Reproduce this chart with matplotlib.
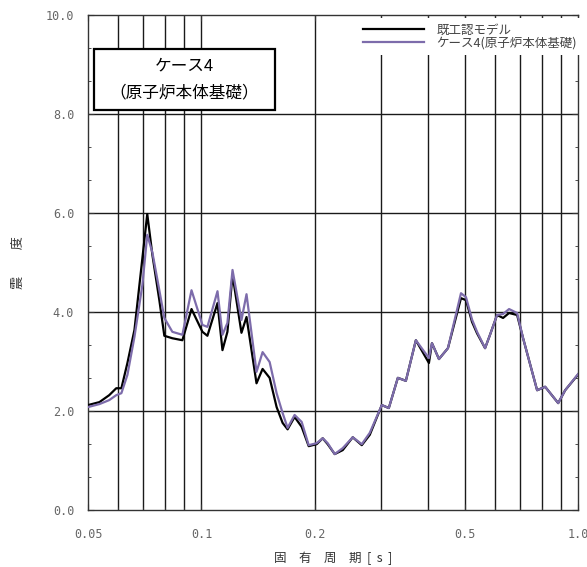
import matplotlib
matplotlib.use("Agg")
import matplotlib.pyplot as plt
import numpy as np
from matplotlib.ticker import FixedLocator, NullFormatter, AutoMinorLocator
from matplotlib.patches import Rectangle

plt.rcParams['font.family'] = ['Noto Sans CJK JP', 'DejaVu Sans']

# natural period [s]
period = [0.05, 0.0536, 0.0569, 0.0594, 0.0613, 0.0636, 0.0664, 0.0697, 0.0718, 0.0741,
          0.0773, 0.0797, 0.0837, 0.089, 0.0941, 0.1006, 0.1037, 0.1103, 0.1137, 0.1172,
          0.1209, 0.1277, 0.1317, 0.140, 0.1453, 0.1517, 0.1583, 0.1642, 0.1693, 0.1767,
          0.1845, 0.1926, 0.2022, 0.2098, 0.2163, 0.2258, 0.2371, 0.2521, 0.2664, 0.2798,
          0.3011, 0.3143, 0.3321, 0.3488, 0.3708, 0.4016, 0.4091, 0.427, 0.4511, 0.4885,
          0.5037, 0.5226, 0.5389, 0.566, 0.5834, 0.609, 0.6318, 0.6554, 0.6884, 0.7141,
          0.778, 0.817, 0.8849, 0.9235, 1.0]

# 既工認モデル
base_model = [2.12, 2.18, 2.32, 2.46, 2.46, 2.97, 3.64, 5.09, 5.98, 5.15,
              4.24, 3.52, 3.47, 3.43, 4.06, 3.60, 3.52, 4.18, 3.23, 3.60,
              4.75, 3.58, 3.90, 2.56, 2.85, 2.67, 2.08, 1.76, 1.63, 1.88,
              1.68, 1.29, 1.33, 1.45, 1.33, 1.13, 1.21, 1.47, 1.31, 1.52,
              2.12, 2.06, 2.67, 2.61, 3.43, 2.97, 3.37, 3.05, 3.27, 4.28,
              4.24, 3.80, 3.57, 3.27, 3.54, 3.94, 3.88, 3.98, 3.94, 3.47,
              2.42, 2.49, 2.16, 2.42, 2.74]

# ケース4(原子炉本体基礎)
case4 = [2.08, 2.14, 2.22, 2.32, 2.36, 2.73, 3.50, 4.55, 5.56, 5.20,
         4.44, 3.88, 3.60, 3.54, 4.44, 3.74, 3.70, 4.42, 3.54, 3.78,
         4.85, 3.84, 4.36, 2.79, 3.19, 2.99, 2.36, 1.96, 1.66, 1.92,
         1.78, 1.31, 1.35, 1.45, 1.35, 1.13, 1.25, 1.47, 1.33, 1.56,
         2.12, 2.06, 2.67, 2.61, 3.43, 3.07, 3.37, 3.05, 3.27, 4.38,
         4.30, 3.85, 3.60, 3.27, 3.54, 3.94, 3.96, 4.06, 3.98, 3.47,
         2.42, 2.49, 2.16, 2.42, 2.75]

x_ticks = [0.05, 0.1, 0.2, 0.5, 1.0]
x_ticklabels = ['0.05', '0.1', '0.2', '0.5', '1.0']
x_grid = [0.06, 0.07, 0.08, 0.09, 0.1, 0.2, 0.3, 0.4, 0.5, 0.6, 0.7, 0.8, 0.9]
y_ticks = [0.0, 2.0, 4.0, 6.0, 8.0, 10.0]

fig = plt.figure(figsize=(5.87, 5.67), dpi=100)
ax = fig.add_axes([0.150, 0.1005, 0.835, 0.873])

ax.plot(period, base_model, color='black', lw=1.6, zorder=3, label='既工認モデル')
ax.plot(period, case4, color='#7d6cab', lw=1.6, zorder=4, label='ケース4(原子炉本体基礎)')

ax.set_xscale('log')
ax.set_xlim(0.05, 1.0)
ax.set_ylim(0, 10)

# grid lines
for g in x_grid:
    ax.axvline(g, color='#1a1a1a', lw=1.0, zorder=1)
for g in y_ticks[1:-1]:
    ax.axhline(g, color='#1a1a1a', lw=1.0, zorder=1)

ax.xaxis.set_major_locator(FixedLocator(x_ticks))
ax.set_xticklabels(x_ticklabels)
ax.xaxis.set_minor_locator(FixedLocator(x_grid))
ax.xaxis.set_minor_formatter(NullFormatter())
ax.set_yticks(y_ticks)
ax.set_yticklabels(['%.1f' % v for v in y_ticks])
ax.yaxis.set_minor_locator(AutoMinorLocator(3))

ax.tick_params(which='both', direction='in', top=True, right=True, color='#333333')
ax.tick_params(which='major', length=4, labelsize=8.5, labelcolor='#666666')
ax.tick_params(axis='x', which='major', pad=13)
ax.tick_params(axis='y', which='major', pad=10)
ax.tick_params(which='minor', length=2.5)
for lab in ax.get_xticklabels() + ax.get_yticklabels():
    lab.set_family('DejaVu Sans Mono')
for sp in ax.spines.values():
    sp.set_color('#333333')
    sp.set_linewidth(1.0)

ax.set_xlabel('固　有　周　期  [  s  ]', fontsize=9, color='#333333')
ax.xaxis.set_label_coords(0.5, -0.083)
ax.set_ylabel('震　　度', fontsize=9.5, color='#333333')
ax.yaxis.set_label_coords(-0.128, 0.5)

# title box
ax.add_patch(Rectangle((0.012, 0.808), 0.37, 0.123, transform=ax.transAxes,
                       facecolor='white', edgecolor='black', lw=1.6, zorder=6))
ax.text(0.197, 0.897, 'ケース4', transform=ax.transAxes, ha='center', va='center',
        fontsize=12, zorder=7)
ax.text(0.197, 0.842, '（原子炉本体基礎）', transform=ax.transAxes, ha='center', va='center',
        fontsize=12, zorder=7)

leg = ax.legend(loc='upper right', bbox_to_anchor=(1.015, 1.0), fontsize=9,
                frameon=True, fancybox=False, framealpha=1.0, borderaxespad=0.2,
                handlelength=4.9, handletextpad=1.0, labelspacing=-0.05,
                borderpad=0.5)
leg.get_frame().set_edgecolor('none')
leg.get_frame().set_facecolor('white')
for t in leg.get_texts():
    t.set_color('#444444')
leg.set_zorder(8)

fig.savefig('out.png', dpi=100)
